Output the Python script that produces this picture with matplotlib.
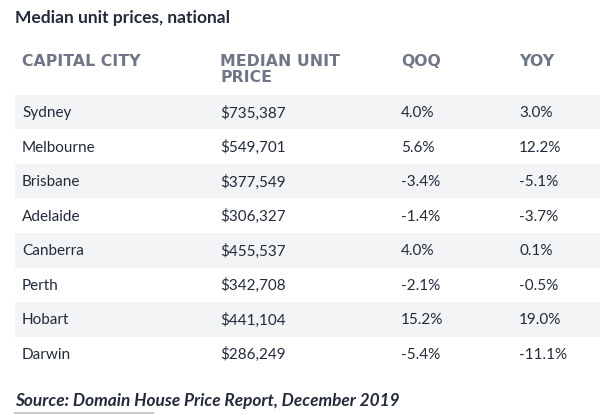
import matplotlib.pyplot as plt
from matplotlib.patches import Rectangle

plt.rcParams['font.family'] = ['Lato', 'DejaVu Sans']

title = "Median unit prices, national"
headers = ["CAPITAL CITY", "MEDIAN UNIT\nPRICE", "QOQ", "YOY"]
cities = ["Sydney", "Melbourne", "Brisbane", "Adelaide", "Canberra", "Perth", "Hobart", "Darwin"]
prices = ["$735,387", "$549,701", "$377,549", "$306,327", "$455,537", "$342,708", "$441,104", "$286,249"]
qoq = ["4.0%", "5.6%", "-3.4%", "-1.4%", "4.0%", "-2.1%", "15.2%", "-5.4%"]
yoy = ["3.0%", "12.2%", "-5.1%", "-3.7%", "0.1%", "-0.5%", "19.0%", "-11.1%"]
source = "Source: Domain House Price Report, December 2019"

dark = "#232a3a"
grey = "#6f7686"
stripe = "#f2f4f6"

fig = plt.figure(figsize=(6, 4.15), dpi=100)
ax = fig.add_axes([0, 0, 1, 1])
ax.set_xlim(0, 600)
ax.set_ylim(415, 0)
ax.axis("off")

col_x = [22, 220, 401, 519]
row_top = 95
row_h = 34.5

ax.text(15, 18, title, fontsize=12.5, fontweight="bold", color=dark, va="center")

# headers: wider font to mimic the letter-spaced caps
for x, h in zip(col_x, headers):
    ax.text(x, 54, h, fontsize=11.3, fontweight="bold", color=grey, va="top",
            family="DejaVu Sans", linespacing=1.1)

for i, row in enumerate(zip(cities, prices, qoq, yoy)):
    y0 = row_top + i * row_h
    if i % 2 == 0:
        ax.add_patch(Rectangle((15, y0), 585, row_h, color=stripe, lw=0))
    for x, val in zip(col_x, row):
        ax.text(x, y0 + row_h / 2 + 1, val, fontsize=11, color=dark, va="center")

ax.text(15, 401, source, fontsize=12.4, fontweight="bold", fontstyle="italic",
        color=dark, va="center")
ax.plot([15, 153], [413, 413], color="#c5c9d0", lw=1.5)

fig.savefig("out.png", dpi=100)
